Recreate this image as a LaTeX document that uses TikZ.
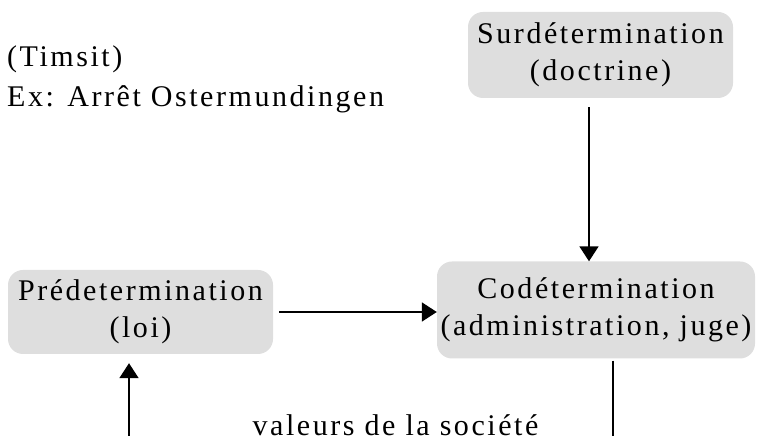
\documentclass[tikz,border=0pt]{standalone}
\usepackage{fontspec}
\setmainfont{Liberation Serif}[LetterSpace=8.5]
\usetikzlibrary{arrows.meta}
\definecolor{boxgray}{RGB}{222,222,222}
\tikzset{
  lbl/.style={font=\fontsize{30}{37}\selectfont, inner sep=0pt},
  stage/.style={lbl, fill=boxgray, rounded corners=15pt, align=center},
  link/.style={line width=1.8pt},
  arr/.style={link, -{Triangle[length=15pt,width=19pt]}},
}
\begin{document}
\begin{tikzpicture}[x=1pt,y=1pt]
  \useasboundingbox (0,0) rectangle (760,436);
  \clip (0,0) rectangle (760,436);

  % heading
  \node[lbl, anchor=base west] (author) at (7,369) {(Timsit)};
  \node[lbl, anchor=base west] (example) at (7,329) {Ex: Arrêt Ostermundingen};

  % the three stages
  \node[stage, minimum width=265pt, minimum height=86pt] (sur) at (600.5,381)
    {Surdétermination\\(doctrine)};
  \node[stage, minimum width=318pt, minimum height=97pt] (cod) at (596,126)
    {Codétermination\\(administration, juge)};
  \node[stage, minimum width=265pt, minimum height=84pt] (pre) at (140.5,124)
    {Prédetermination\\(loi)};

  % bottom label
  \node[lbl, anchor=base] (society) at (395.5,0) {valeurs de la société};

  % free ends at the lower edge
  \coordinate (downend) at (613,0);
  \coordinate (upstart) at (129,0);

  % connectors
  \draw[arr] ([xshift=-11.5pt,yshift=-9pt]sur.south) -- ([xshift=-11.5pt]sur.south |- cod.north);
  \draw[arr] ([xshift=6pt]pre.east |- 0,124) -- (cod.west |- 0,124);
  \draw[link] (downend |- cod.south) ++(0,-2) -- (downend);
  \draw[arr] (upstart) -- ([yshift=-9pt]pre.south -| upstart);
\end{tikzpicture}
\end{document}
